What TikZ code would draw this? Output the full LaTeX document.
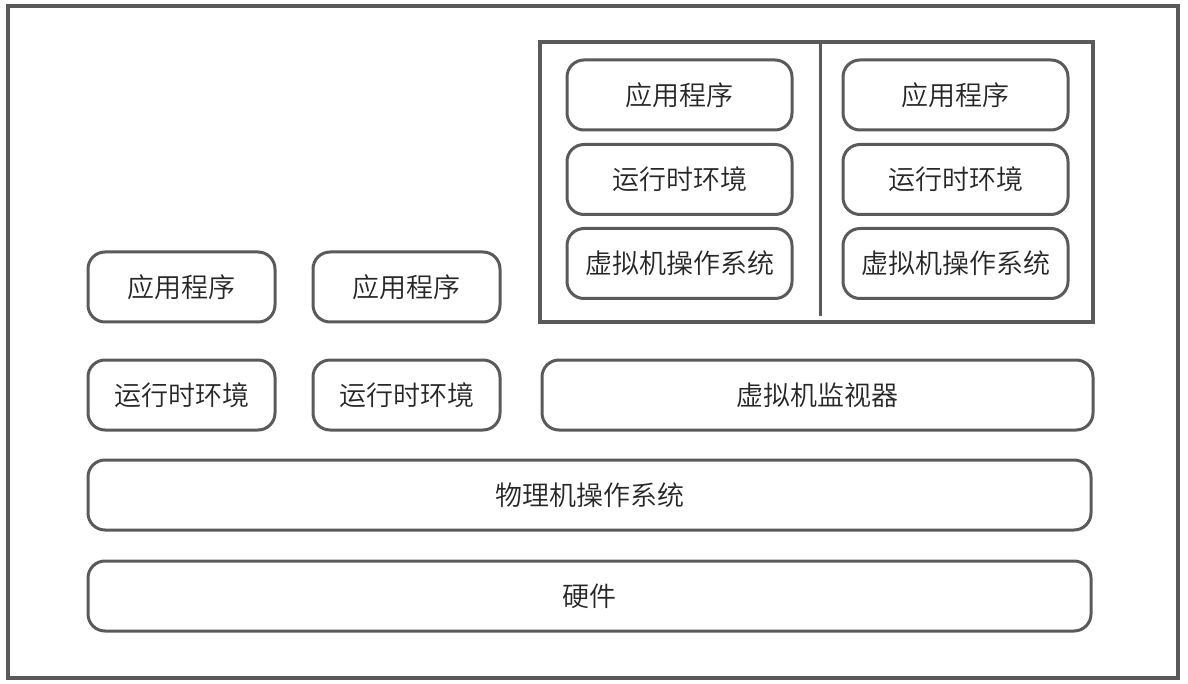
\documentclass[tikz,border=0pt]{standalone}
\usepackage{fontspec}
\setmainfont{Noto Sans CJK SC}[UprightFont=* DemiLight]
\usepackage{xcolor}
\usepackage{tikz}
\definecolor{linegray}{HTML}{5A5A5A}
\definecolor{textgray}{HTML}{262626}

\begin{document}
\begin{tikzpicture}[x=1pt, y=-1pt,
  layer/.style={draw=linegray, line width=3pt, rounded corners=17pt, fill=white,
    minimum height=70pt, text=textgray, font=\fontsize{27}{31}\selectfont, inner sep=0pt},
  frame/.style={draw=linegray, line width=3.2pt, inner sep=0pt}]
\useasboundingbox (0,0) rectangle (1188,684);
\node[frame, minimum width=1170pt, minimum height=672pt] (outer) at (593,342) {};
\node[frame, minimum width=553pt, minimum height=280pt] (vmbox) at (816.5,182) {};
\coordinate (divtop) at (820,42);
\coordinate (divbot) at (820,316);
\draw[linegray, line width=3pt] (divtop) -- (divbot);
\node[layer, minimum width=225pt] (vmapp1) at (679.5,95) {应用程序};
\node[layer, minimum width=225pt] (vmrt1) at (679.5,179.5) {运行时环境};
\node[layer, minimum width=225pt] (vmos1) at (679.5,263.5) {虚拟机操作系统};
\node[layer, minimum width=225pt] (vmapp2) at (955.5,95) {应用程序};
\node[layer, minimum width=225pt] (vmrt2) at (955.5,179.5) {运行时环境};
\node[layer, minimum width=225pt] (vmos2) at (955.5,263.5) {虚拟机操作系统};
\node[layer, minimum width=187pt] (app1) at (181.5,287) {应用程序};
\node[layer, minimum width=187pt] (app2) at (406.5,287) {应用程序};
\node[layer, minimum width=187pt] (rt1) at (181.5,395) {运行时环境};
\node[layer, minimum width=187pt] (rt2) at (406.5,395) {运行时环境};
\node[layer, minimum width=551pt] (hyper) at (817.5,395) {虚拟机监视器};
\node[layer, minimum width=1003pt] (hostos) at (589.5,495) {物理机操作系统};
\node[layer, minimum width=1003pt] (hw) at (589.5,596) {硬件};
\end{tikzpicture}
\end{document}
